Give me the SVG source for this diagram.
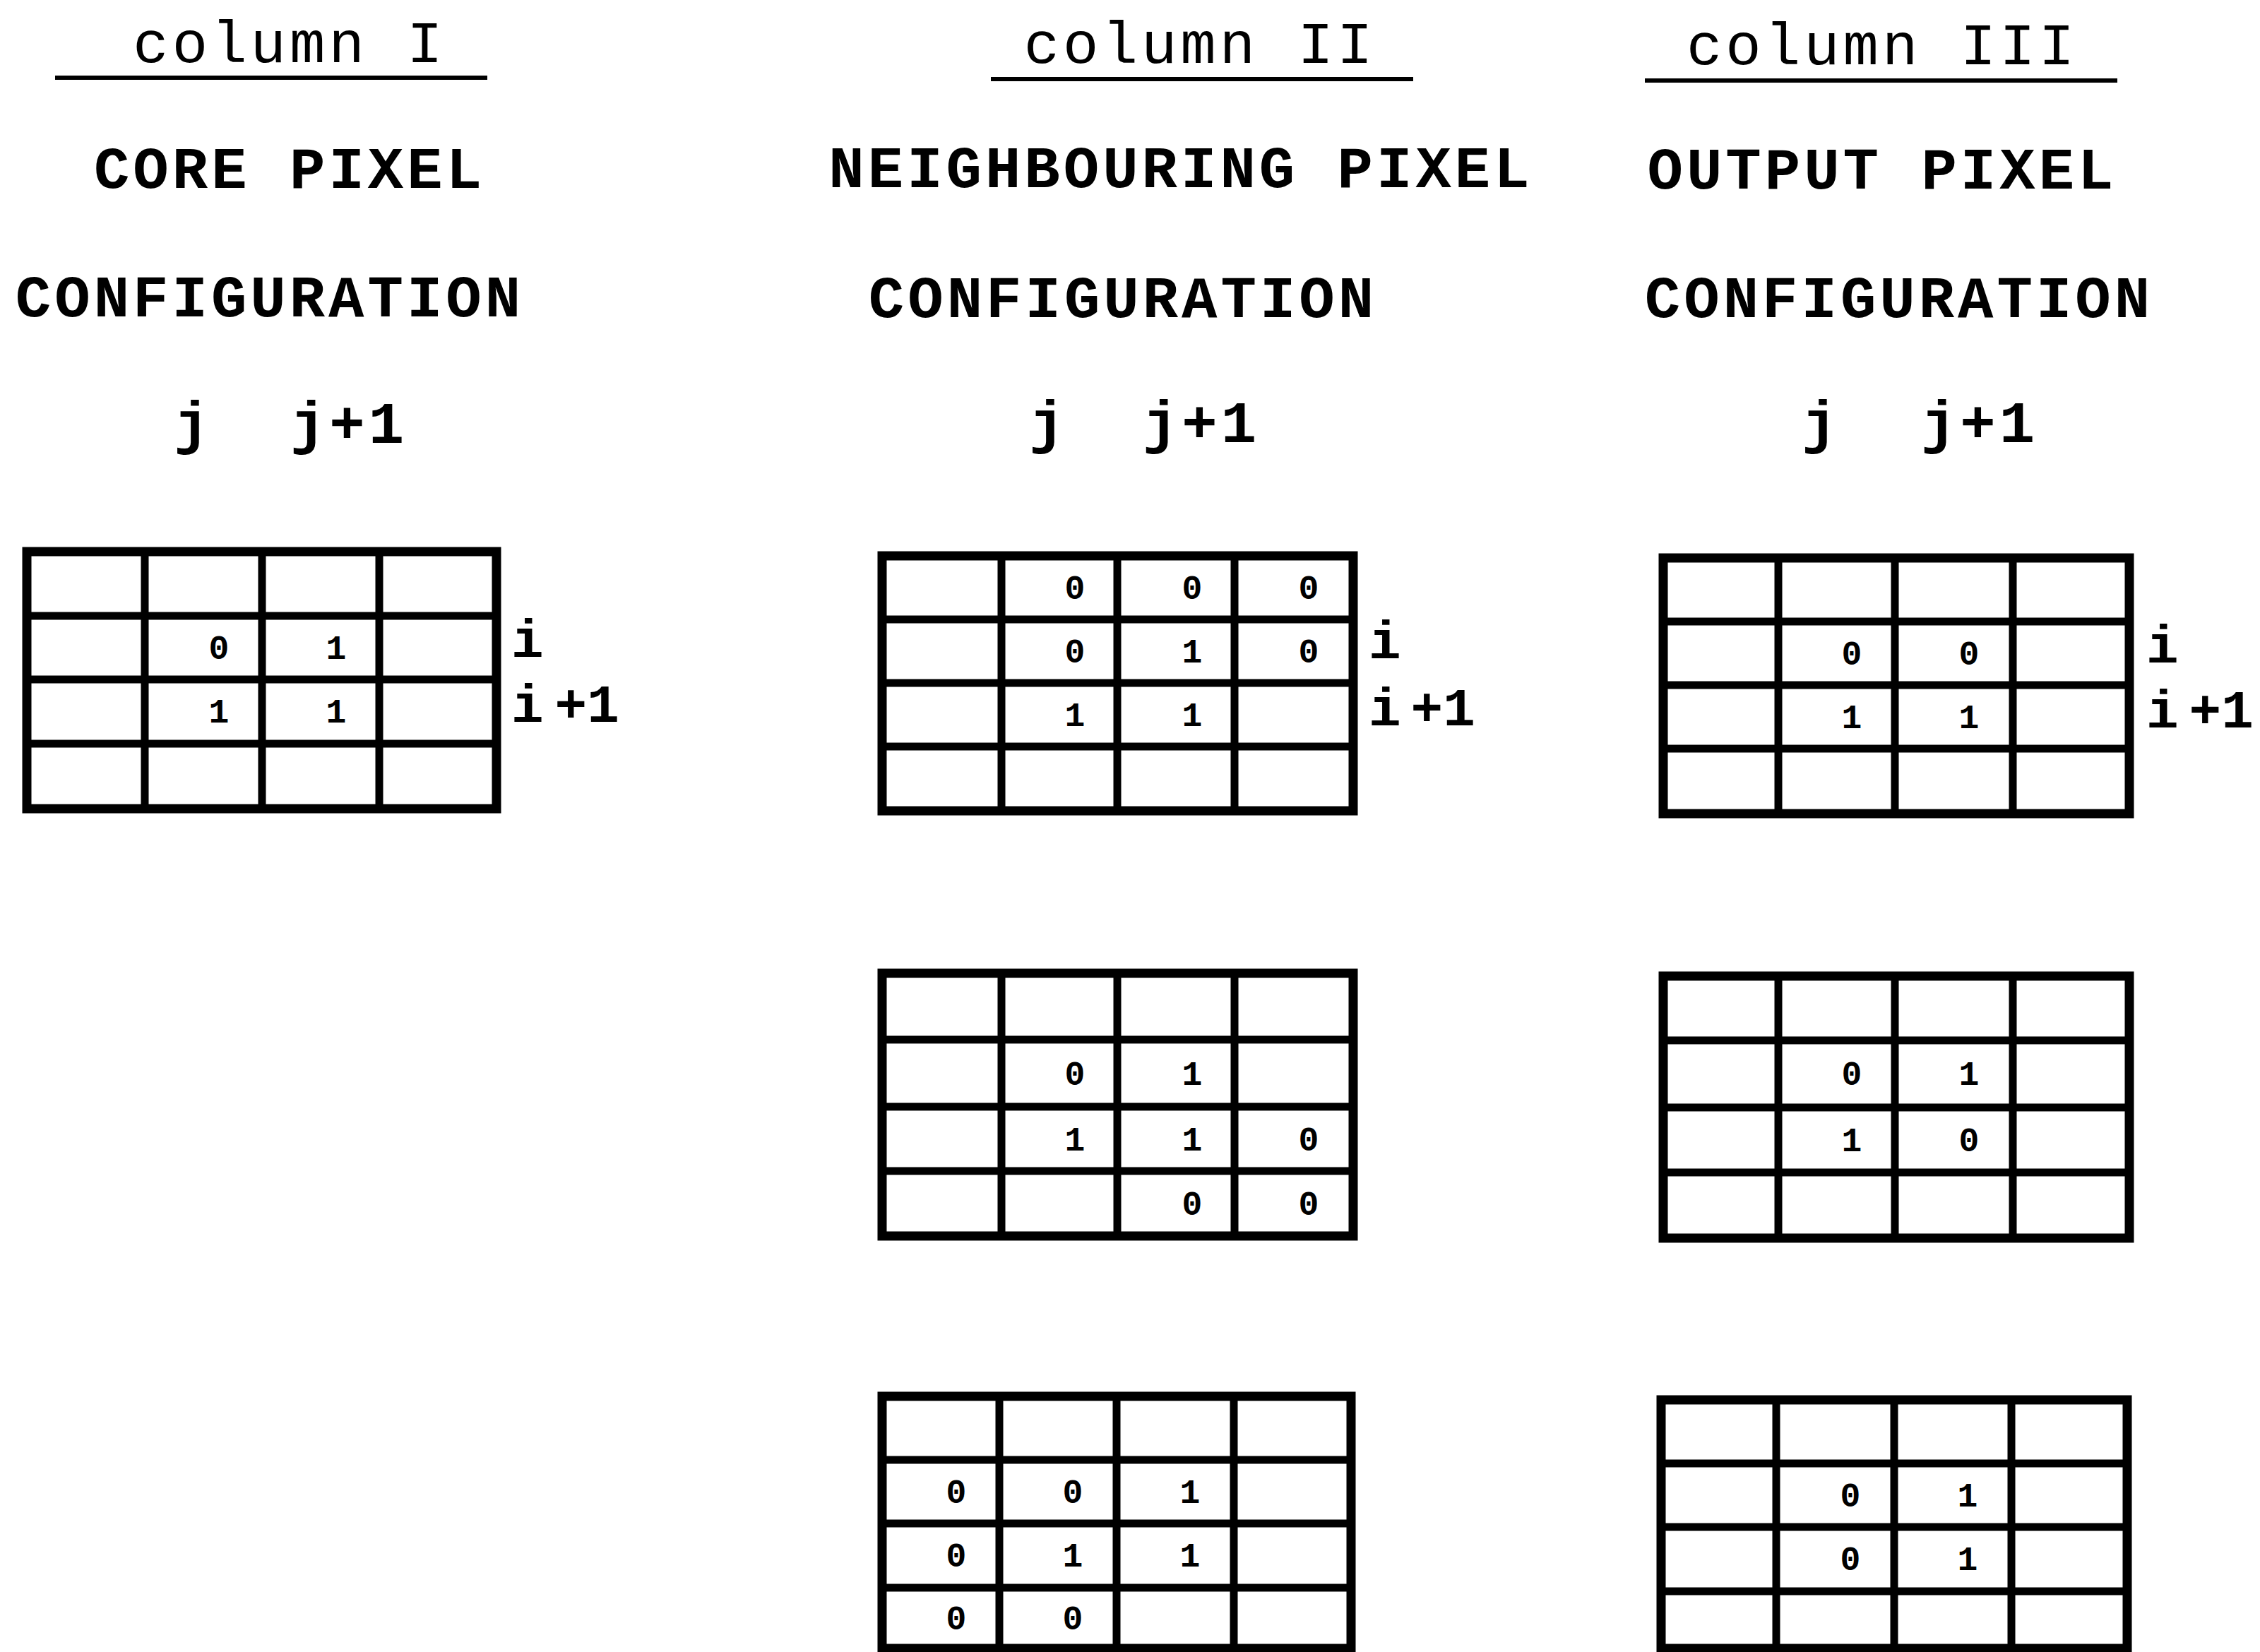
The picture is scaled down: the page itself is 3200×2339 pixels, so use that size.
<svg xmlns="http://www.w3.org/2000/svg" width="3200" height="2339" viewBox="0 0 3200 2339">
<style>
.t{font-family:"Liberation Mono","Courier New",monospace;font-weight:bold;font-size:84px;letter-spacing:5px;fill:#000;text-anchor:middle}
.c{font-weight:normal}
.u{stroke:#000;stroke-width:6;fill:none}
.g{fill:none;stroke:#000;stroke-width:11}
.o{fill:none;stroke:#000;stroke-width:13}
.v{font-family:"Liberation Mono","Courier New",monospace;font-weight:bold;font-size:48px;fill:#000;text-anchor:middle}
.l{font-family:"Liberation Mono","Courier New",monospace;font-weight:bold;font-size:76px;fill:#000}
</style>
<rect width="3200" height="2339" fill="#fff"/>
<g id="col1-head">
<text class="t c" x="410" y="88">column I</text>
<line class="u" x1="78" y1="110" x2="690" y2="110"/>
<text class="t" x="410" y="266">CORE PIXEL</text>
<text class="t" x="382" y="448">CONFIGURATION</text>
<text class="t" x="274" y="627">j</text>
<text class="t" x="494" y="627">j+1</text>
</g>
<g id="col2-head">
<text class="t c" x="1699" y="89">column II</text>
<line class="u" x1="1403" y1="112" x2="2001" y2="112"/>
<text class="t" x="1672" y="265">NEIGHBOURING PIXEL</text>
<text class="t" x="1590" y="449">CONFIGURATION</text>
<text class="t" x="1485" y="626">j</text>
<text class="t" x="1701" y="626">j+1</text>
</g>
<g id="col3-head">
<text class="t c" x="2665" y="91">column III</text>
<line class="u" x1="2329" y1="114" x2="2998" y2="114"/>
<text class="t" x="2665" y="267">OUTPUT PIXEL</text>
<text class="t" x="2689" y="449">CONFIGURATION</text>
<text class="t" x="2579" y="626">j</text>
<text class="t" x="2803" y="626">j+1</text>
</g>
<g id="grid1">
<rect class="o" x="38" y="781" width="665" height="364"/>
<path class="g" d="M205 781V1145M371 781V1145M537 781V1145M38 872H703M38 962H703M38 1053H703"/>
<text class="v" x="310" y="933">0</text><text class="v" x="476" y="933">1</text>
<text class="v" x="310" y="1023">1</text><text class="v" x="476" y="1023">1</text>
<text class="l" x="724" y="930">i</text>
<text class="l" x="724" y="1022">i<tspan dx="16">+1</tspan></text>
</g>
<g id="grid2a">
<rect class="o" x="1249" y="787" width="667" height="361"/>
<path class="g" d="M1418 787V1148M1582 787V1148M1748 787V1148M1249 877H1916M1249 967H1916M1249 1057H1916"/>
<text class="v" x="1522" y="848">0</text><text class="v" x="1688" y="848">0</text><text class="v" x="1853" y="848">0</text>
<text class="v" x="1522" y="938">0</text><text class="v" x="1688" y="938">1</text><text class="v" x="1853" y="938">0</text>
<text class="v" x="1522" y="1028">1</text><text class="v" x="1688" y="1028">1</text>
<text class="l" x="1938" y="932">i</text>
<text class="l" x="1938" y="1027">i<tspan dx="14">+1</tspan></text>
</g>
<g id="grid2b">
<rect class="o" x="1249" y="1378" width="667" height="372"/>
<path class="g" d="M1418 1378V1750M1582 1378V1750M1748 1378V1750M1249 1472H1916M1249 1567H1916M1249 1658H1916"/>
<text class="v" x="1522" y="1536">0</text><text class="v" x="1688" y="1536">1</text>
<text class="v" x="1522" y="1629">1</text><text class="v" x="1688" y="1629">1</text><text class="v" x="1853" y="1629">0</text>
<text class="v" x="1688" y="1720">0</text><text class="v" x="1853" y="1720">0</text>
</g>
<g id="grid2c">
<rect class="o" x="1249" y="1977" width="664" height="357"/>
<path class="g" d="M1415 1977V2334M1581 1977V2334M1747 1977V2334M1249 2067H1913M1249 2157H1913M1249 2248H1913"/>
<text class="v" x="1354" y="2128">0</text><text class="v" x="1519" y="2128">0</text><text class="v" x="1685" y="2128">1</text>
<text class="v" x="1354" y="2218">0</text><text class="v" x="1519" y="2218">1</text><text class="v" x="1685" y="2218">1</text>
<text class="v" x="1354" y="2307">0</text><text class="v" x="1519" y="2307">0</text>
</g>
<g id="grid3a">
<rect class="o" x="2355" y="790" width="660" height="362"/>
<path class="g" d="M2518 790V1152M2683 790V1152M2850 790V1152M2355 880H3015M2355 970H3015M2355 1060H3015"/>
<text class="v" x="2622" y="941">0</text><text class="v" x="2788" y="941">0</text>
<text class="v" x="2622" y="1031">1</text><text class="v" x="2788" y="1031">1</text>
<text class="l" x="3039" y="938">i</text>
<text class="l" x="3039" y="1030">i<tspan dx="15">+1</tspan></text>
</g>
<g id="grid3b">
<rect class="o" x="2355" y="1382" width="660" height="371"/>
<path class="g" d="M2518 1382V1753M2683 1382V1753M2850 1382V1753M2355 1473H3015M2355 1568H3015M2355 1660H3015"/>
<text class="v" x="2622" y="1536">0</text><text class="v" x="2788" y="1536">1</text>
<text class="v" x="2622" y="1630">1</text><text class="v" x="2788" y="1630">0</text>
</g>
<g id="grid3c">
<rect class="o" x="2352" y="1982" width="660" height="352"/>
<path class="g" d="M2515 1982V2334M2682 1982V2334M2848 1982V2334M2352 2072H3012M2352 2162H3012M2352 2253H3012"/>
<text class="v" x="2620" y="2133">0</text><text class="v" x="2786" y="2133">1</text>
<text class="v" x="2620" y="2223">0</text><text class="v" x="2786" y="2223">1</text>
</g>
</svg>
